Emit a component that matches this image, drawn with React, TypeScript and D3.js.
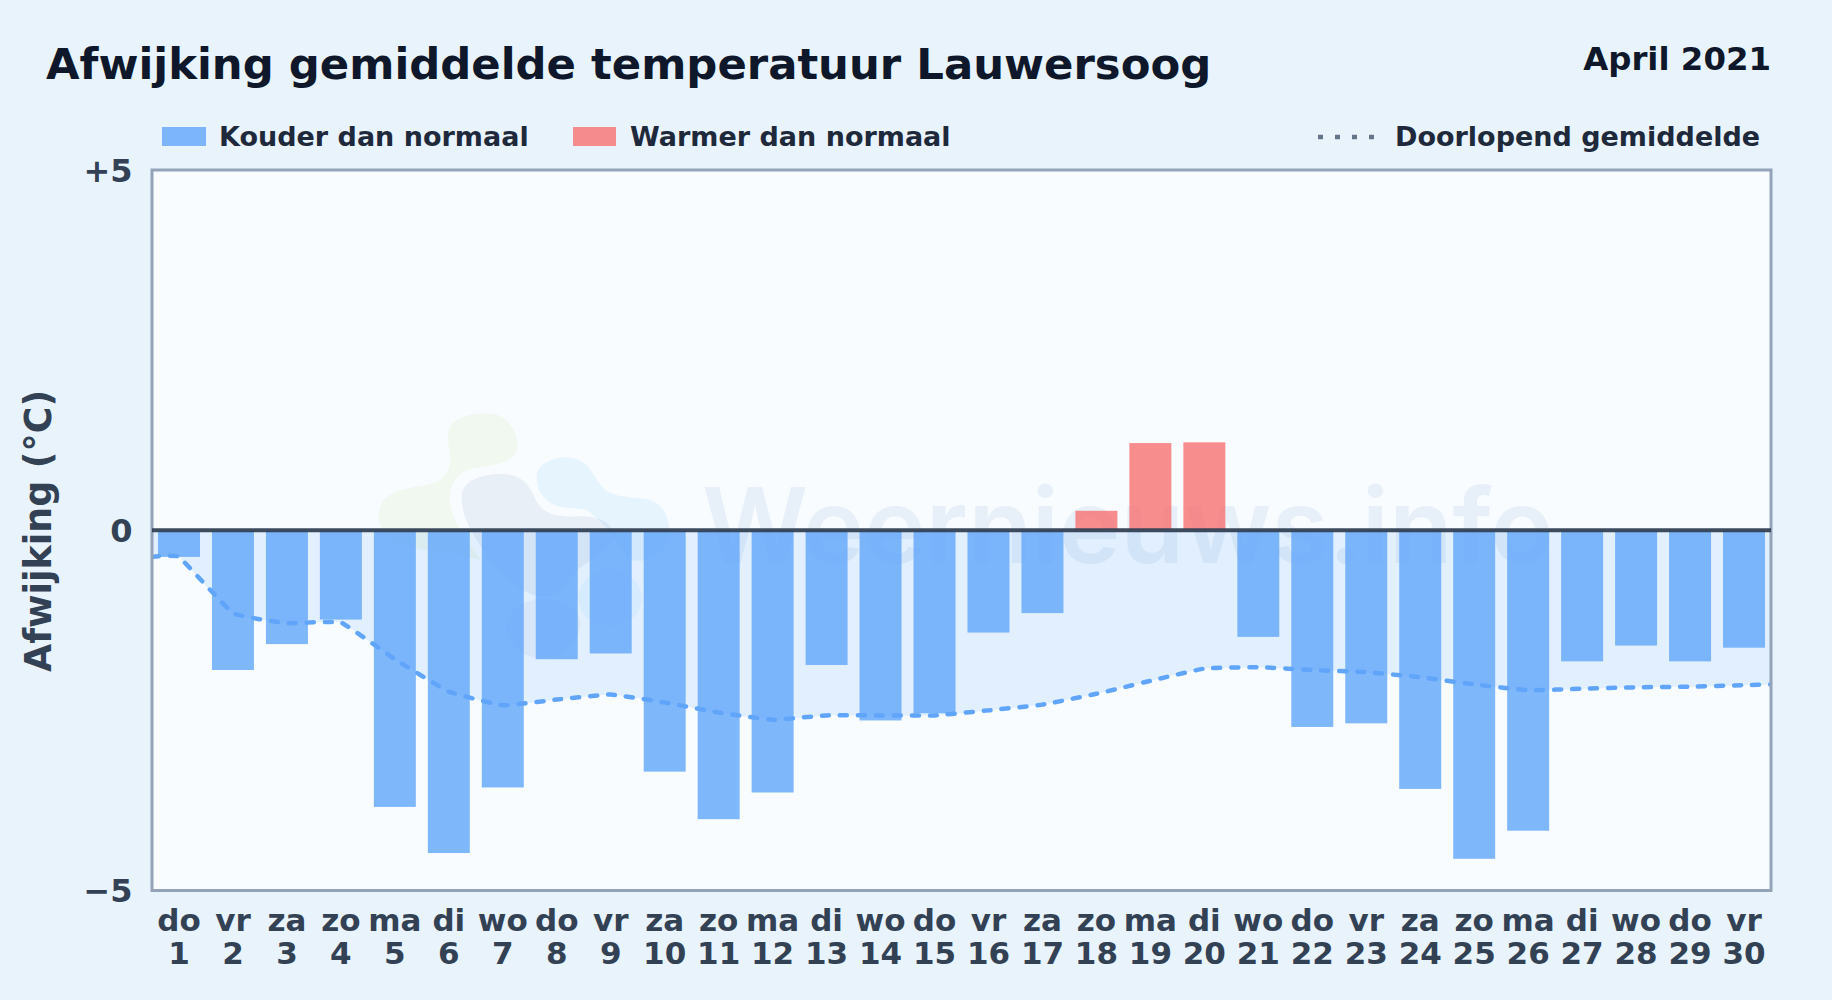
import React from "react";
import * as d3 from "d3";

const weekdays = ["do","vr","za","zo","ma","di","wo","do","vr","za","zo","ma","di","wo","do","vr","za","zo","ma","di","wo","do","vr","za","zo","ma","di","wo","do","vr"];
const days = ["1","2","3","4","5","6","7","8","9","10","11","12","13","14","15","16","17","18","19","20","21","22","23","24","25","26","27","28","29","30"];
const deviations = [-0.37,-1.94,-1.58,-1.24,-3.84,-4.48,-3.57,-1.79,-1.71,-3.35,-4.01,-3.64,-1.87,-2.64,-2.54,-1.42,-1.15,0.27,1.21,1.22,-1.48,-2.73,-2.68,-3.59,-4.56,-4.17,-1.82,-1.6,-1.82,-1.63];
const runningMean = [-0.37,-1.15,-1.29,-1.28,-1.79,-2.24,-2.43,-2.35,-2.28,-2.39,-2.53,-2.63,-2.57,-2.57,-2.57,-2.5,-2.42,-2.27,-2.09,-1.92,-1.9,-1.94,-1.97,-2.04,-2.14,-2.22,-2.2,-2.18,-2.17,-2.15];
const yTicks = [5, 0, -5];
const yTickLabels = ["+5", "0", "\u22125"];

const W = 1832, H = 1000;
const plot = { left: 152, right: 1771, top: 170, bottom: 890.5 };
const FONT = "'DejaVu Sans', sans-serif";

export default function App() {
  const x = d3.scaleBand<string>().domain(days).range([plot.left, plot.right]).paddingInner(0.222).paddingOuter(0.111);
  const y = d3.scaleLinear().domain([-5, 5]).range([plot.bottom, plot.top]);
  const cx = (i: number) => (x(days[i]) as number) + x.bandwidth() / 2;
  const pts: [number, number][] = [
    [plot.left, runningMean[0]],
    ...runningMean.map((v, i) => [cx(i), v] as [number, number]),
    [plot.right, runningMean[runningMean.length - 1] + 0.01],
  ];
  const curve = d3.curveCardinal.tension(0.7);
  const line = d3.line<[number, number]>().x(d => d[0]).y(d => y(d[1])).curve(curve);
  const area = d3.area<[number, number]>().x(d => d[0]).y0(y(0)).y1(d => y(d[1])).curve(curve);

  return (
    <svg width={W} height={H} viewBox={`0 0 ${W} ${H}`} style={{ position: "fixed", left: 0, top: 0, display: "block" }} fontFamily={FONT}>
      <defs>
        <clipPath id="plotClip"><rect x={plot.left} y={plot.top} width={plot.right - plot.left} height={plot.bottom - plot.top} /></clipPath>
      </defs>
      <rect width={W} height={H} fill="#e8f3fc" />
      <rect x={plot.left} y={plot.top} width={plot.right - plot.left} height={plot.bottom - plot.top} fill="#f8fcff" />

      <g clipPath="url(#plotClip)">
        {/* watermark */}
        <g transform="translate(360,400) scale(0.3333)">
          <path fill="#a3c93a" opacity={0.08} d="M265 100C270 50 340 35 400 42C450 50 480 110 470 150C460 190 400 195 340 205C290 215 265 260 270 305C275 370 330 430 362 480C290 460 200 460 120 430C60 400 45 360 65 310C90 265 160 265 220 250C265 235 275 190 270 160C265 130 262 115 265 100Z" />
          <path fill="#1e4d8c" opacity={0.07} d="M305 290C305 240 370 220 430 222C490 225 510 260 525 295C540 330 570 350 640 350C700 345 740 360 755 385C790 430 690 480 650 510C620 540 610 590 550 590C480 590 400 500 350 420C325 380 305 340 305 290Z" />
          <path fill="#1e4d8c" opacity={0.05} d="M440 680C440 630 490 600 540 597C600 595 650 620 660 660C665 720 620 770 540 775C480 770 440 730 440 680Z" />
          <path fill="#38a9f8" opacity={0.09} d="M530 230C530 190 590 165 640 175C690 185 700 230 730 265C760 295 820 290 870 300C920 320 935 370 925 420C905 470 860 490 810 480C780 440 740 370 680 330C640 320 590 330 560 300C540 280 530 260 530 230Z" />
          <ellipse cx={750} cy={595} rx={95} ry={85} fill="#38a9f8" opacity={0.06} />
        </g>
        <text x={702} y={563} fontFamily="Inter, sans-serif" fontWeight={600} fontSize={104} fill="#1e5aa8" opacity={0.07}>Weernieuws.info</text>

        <path d={area(pts) as string} fill="#60a5fa" opacity={0.15} />
        {deviations.map((v, i) => (
          <rect key={i} x={x(days[i])} width={x.bandwidth()} y={y(Math.max(0, v))} height={Math.abs(y(v) - y(0))}
            fill={v < 0 ? "#60a5fa" : "#f87171"} opacity={0.8} />
        ))}
        <path d={line(pts) as string} fill="none" stroke="#60a5fa" strokeWidth={4.5} strokeDasharray="7 11" strokeLinecap="round" />
      </g>

      <rect x={plot.left} y={plot.top} width={plot.right - plot.left} height={plot.bottom - plot.top} fill="none" stroke="#94a3b8" strokeWidth={3} />
      <line x1={plot.left} x2={plot.right} y1={y(0)} y2={y(0)} stroke="#334155" strokeOpacity={0.95} strokeWidth={4} />

      {/* title */}
      <text x={46} y={79} fontSize={43.35} fontWeight={700} fill="#0f172a">Afwijking gemiddelde temperatuur Lauwersoog</text>
      <text x={1771} y={70} fontSize={32.4} fontWeight={700} fill="#0f172a" textAnchor="end">April 2021</text>

      {/* legend */}
      <rect x={162} y={127} width={44} height={19} fill="#60a5fa" opacity={0.8} />
      <text x={219} y={146} fontSize={27} fontWeight={700} fill="#1e293b">Kouder dan normaal</text>
      <rect x={573} y={127} width={43} height={19} fill="#f87171" opacity={0.8} />
      <text x={630} y={146} fontSize={27} fontWeight={700} fill="#1e293b">Warmer dan normaal</text>
      <line x1={1318} x2={1376} y1={137} y2={137} stroke="#64748b" strokeWidth={4.5} strokeDasharray="5 12" />
      <text x={1395} y={146} fontSize={27} fontWeight={700} fill="#1e293b">Doorlopend gemiddelde</text>

      {/* y axis */}
      {yTicks.map((t, i) => (
        <text key={t} x={132.5} y={y(t) + 11.5} fontSize={32} fontWeight={700} fill="#334155" textAnchor="end">{yTickLabels[i]}</text>
      ))}
      <text transform={`translate(51,531) rotate(-90)`} fontSize={36.4} fontWeight={700} fill="#334155" textAnchor="middle">Afwijking (°C)</text>

      {/* x axis */}
      {days.map((d, i) => (
        <g key={d}>
          <text x={cx(i)} y={931} fontSize={31} fontWeight={700} fill="#334155" textAnchor="middle">{weekdays[i]}</text>
          <text x={cx(i)} y={964} fontSize={31} fontWeight={700} fill="#334155" textAnchor="middle">{d}</text>
        </g>
      ))}
    </svg>
  );
}
